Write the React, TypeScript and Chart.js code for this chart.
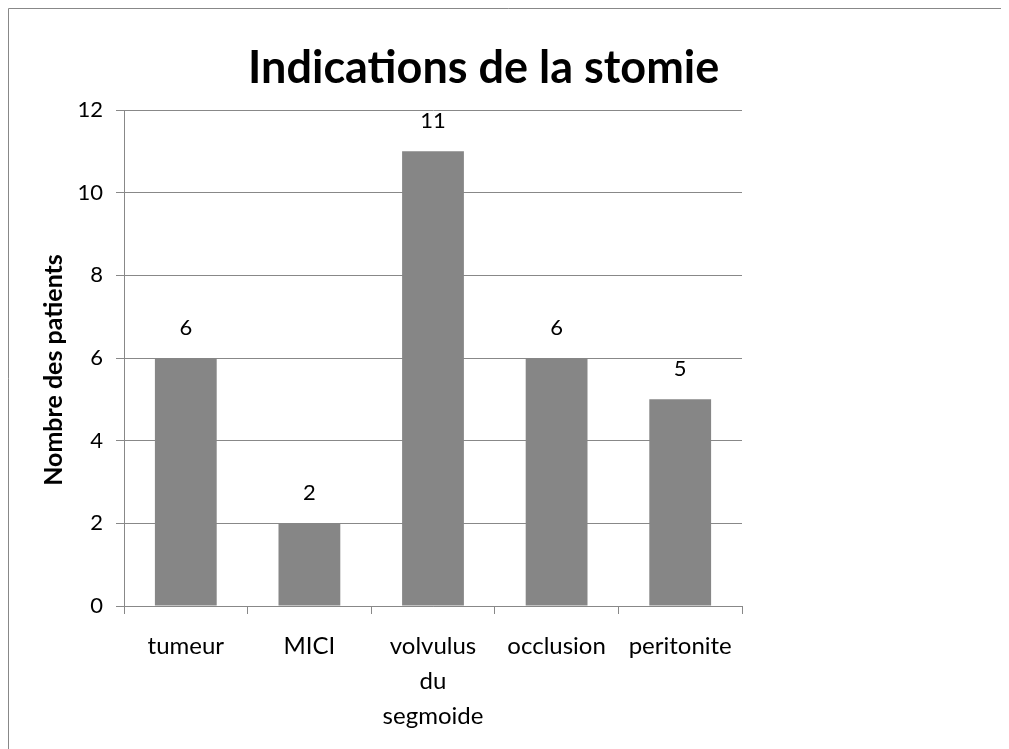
import React, { useEffect, useRef } from "react";
import { Chart, registerables } from "chart.js";

Chart.register(...registerables);

const categories: (string | string[])[] = ["tumeur", "MICI", ["volvulus", "du", "segmoide"], "occlusion", "peritonite"];
const patients: number[] = [6, 2, 11, 6, 5];
const chartTitle = "Indications de la stomie";
const yAxisTitle = "Nombre des patients";

const FONT = "Lato, 'Open Sans', sans-serif";

const frame = {
  id: "frame",
  beforeDraw(chart: any) {
    const ctx = chart.ctx;
    ctx.save();
    ctx.strokeStyle = "#888888";
    ctx.lineWidth = 1;
    ctx.beginPath();
    ctx.moveTo(0.5, chart.height);
    ctx.lineTo(0.5, 0.5);
    ctx.lineTo(chart.width, 0.5);
    ctx.stroke();
    ctx.restore();
  },
};

const titlePlugin = {
  id: "customTitle",
  afterDraw(chart: any) {
    const ctx = chart.ctx;
    ctx.save();
    ctx.font = `bold 45px ${FONT}`;
    ctx.fillStyle = "#000";
    ctx.textAlign = "center";
    ctx.textBaseline = "alphabetic";
    ctx.fillText(chartTitle, chart.width * 0.4752, 75);
    // y axis title
    const area = chart.chartArea;
    ctx.font = `bold 25px ${FONT}`;
    ctx.textBaseline = "middle";
    ctx.translate(46, (area.top + area.bottom) / 2 + 12);
    ctx.rotate(-Math.PI / 2);
    ctx.fillText(yAxisTitle, 0, 0);
    ctx.restore();
  },
};

const valueLabels = {
  id: "valueLabels",
  afterDatasetsDraw(chart: any) {
    const ctx = chart.ctx;
    const meta = chart.getDatasetMeta(0);
    ctx.save();
    ctx.font = `22px ${FONT}`;
    ctx.fillStyle = "#000";
    ctx.textAlign = "center";
    ctx.textBaseline = "middle";
    meta.data.forEach((bar: any, i: number) => {
      ctx.fillText(String(chart.data.datasets[0].data[i]), bar.x, bar.y - 30);
    });
    ctx.restore();
  },
};

export default function App() {
  const ref = useRef<HTMLCanvasElement>(null);
  useEffect(() => {
    document.documentElement.style.overflow = "hidden";
    document.body.style.overflow = "hidden";
    const chart = new Chart(ref.current!, {
      type: "bar",
      data: {
        labels: categories,
        datasets: [
          {
            data: patients,
            backgroundColor: "#868686",
            barPercentage: 0.5,
            categoryPercentage: 1,
          },
        ],
      },
      options: {
        animation: false,
        responsive: false,
        layout: { padding: { top: 102, right: 267, left: 0, bottom: 0 } },
        plugins: { legend: { display: false }, tooltip: { enabled: false }, title: { display: false } },
        scales: {
          x: {
            afterFit(scale: any) {
              scale.height = 143;
            },
            grid: { drawOnChartArea: false, drawTicks: true, tickLength: 8, color: "#888888", offset: true },
            border: { color: "#888888" },
            ticks: { color: "#000", font: { family: FONT, size: 24, lineHeight: 1.45 }, padding: 15, maxRotation: 0, autoSkip: false },
          },
          y: {
            min: 0,
            max: 12,
            afterFit(scale: any) {
              scale.width = 116;
            },
            grid: { color: "#888888", tickLength: 8 },
            border: { color: "#888888" },
            ticks: { stepSize: 2, color: "#000", font: { family: FONT, size: 22 }, padding: 13 },
            title: { display: false },
          },
        },
      },
      plugins: [frame, titlePlugin, valueLabels],
    });
    return () => chart.destroy();
  }, []);
  return <canvas ref={ref} width={1001} height={741} style={{ display: "block" }} />;
}
